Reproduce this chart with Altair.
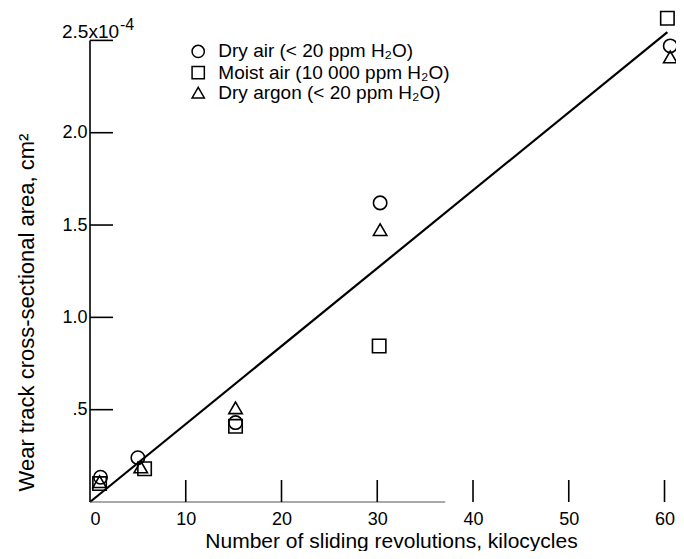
import altair as alt
import pandas as pd

# ---- data ----
series_names = ["Dry air", "Moist air", "Dry argon"]
legend_labels = ["Dry air (< 20 ppm H\u2082O)", "Moist air (10 000 ppm H\u2082O)", "Dry argon (< 20 ppm H\u2082O)"]

dry_air_x = [1.1, 5.0, 15.2, 30.3, 60.6]
dry_air_y = [0.134, 0.24, 0.43, 1.62, 2.47]
moist_air_x = [1.0, 5.7, 15.2, 30.2, 60.3]
moist_air_y = [0.10, 0.18, 0.41, 0.845, 2.62]
dry_argon_x = [1.0, 5.3, 15.2, 30.3, 60.6]
dry_argon_y = [0.11, 0.19, 0.51, 1.475, 2.41]

fit_x = [0, 60.3]
fit_y = [0, 2.545]

x_ticks = [10, 20, 30, 40, 50, 60]
x_labels = [0, 10, 20, 30, 40, 50, 60]
y_ticks = [0.5, 1.0, 1.5, 2.0, 2.5]
y_labels = [0.5, 1.0, 1.5, 2.0]

FONT = "Liberation Sans"

pts = pd.DataFrame({
    "x": dry_air_x + moist_air_x + dry_argon_x,
    "y": dry_air_y + moist_air_y + dry_argon_y,
    "s": [series_names[0]] * 5 + [series_names[1]] * 5 + [series_names[2]] * 5,
})
fit = pd.DataFrame({"x": fit_x, "y": fit_y})

xs = alt.Scale(domain=[0, 61.2], nice=False, zero=False)
ys = alt.Scale(domain=[0, 2.67], nice=False, zero=False)
shape_scale = alt.Scale(domain=series_names, range=["circle", "square", "triangle-up"])

X = alt.X("x:Q", scale=xs, axis=alt.Axis(
    values=x_labels, title="Number of sliding revolutions, kilocycles", grid=False, domain=False,
    ticks=False, labelPadding=8, labelFontSize=18, labelFont=FONT, labelColor="black",
    titleFont=FONT, titleFontSize=21, titleFontWeight="normal", titleColor="black",
    titleX=301, titleY=45, titleBaseline="alphabetic", titleAnchor="middle"))
Y = alt.Y("y:Q", scale=ys, axis=alt.Axis(
    values=y_labels, labelExpr="datum.value == 0.5 ? '.5' : format(datum.value, '.1f')",
    title="Wear track cross-sectional area, cm\u00b2", grid=False, domain=False, ticks=False,
    labelPadding=3, labelFontSize=18, labelFont=FONT, labelColor="black",
    titleFont=FONT, titleFontSize=22, titleFontWeight="normal", titleColor="black",
    titleAngle=270, titleX=-57, titleY=303, titleBaseline="alphabetic", titleAlign="center"))

points = alt.Chart(pts).mark_point(filled=False, size=180, strokeWidth=1.6, color="black", opacity=1).encode(
    x=X, y=Y, shape=alt.Shape("s:N", scale=shape_scale, legend=None))

line = alt.Chart(fit).mark_line(color="black", strokeWidth=2.2).encode(x="x:Q", y="y:Q")

# axis lines
yaxis = alt.Chart(pd.DataFrame({"x": [0], "y": [0], "y2": [2.5]})).mark_rule(color="black", strokeWidth=1.6).encode(
    x="x:Q", y="y:Q", y2="y2:Q")
xaxis = alt.Chart(pd.DataFrame({"x": [0], "x2": [37.1], "y": [0]})).mark_rule(color="#555555", strokeWidth=1.2).encode(
    x="x:Q", x2="x2:Q", y="y:Q")

# inward ticks
xt = alt.Chart(pd.DataFrame({"x": x_ticks, "y": [0] * len(x_ticks), "y2": [0.119] * len(x_ticks)})).mark_rule(
    color="black", strokeWidth=1.6).encode(x="x:Q", y="y:Q", y2="y2:Q")
yt = alt.Chart(pd.DataFrame({"y": y_ticks, "x": [0] * len(y_ticks), "x2": [2.4] * len(y_ticks)})).mark_rule(
    color="black", strokeWidth=1.6).encode(x="x:Q", x2="x2:Q", y="y:Q")

# top label 2.5x10^-4
top_main = alt.Chart(pd.DataFrame({"x": [3.03], "y": [2.511], "t": ["2.5x10"]})).mark_text(
    align="right", baseline="alphabetic", font=FONT, fontSize=19, color="black").encode(x="x:Q", y="y:Q", text="t:N")
top_exp = alt.Chart(pd.DataFrame({"x": [3.13], "y": [2.554], "t": ["-4"]})).mark_text(
    align="left", baseline="alphabetic", font=FONT, fontSize=16, color="black").encode(x="x:Q", y="y:Q", text="t:N")

# legend
leg = pd.DataFrame({"x": [11.3] * 3, "lx": [13.4] * 3, "y": [2.44, 2.325, 2.217], "s": series_names, "t": legend_labels})
leg_sym = alt.Chart(leg).mark_point(filled=False, size=150, strokeWidth=1.5, color="black", opacity=1).encode(
    x="x:Q", y="y:Q", shape=alt.Shape("s:N", scale=shape_scale, legend=None))
leg_txt = alt.Chart(leg).mark_text(align="left", baseline="middle", font=FONT, fontSize=19, color="black").encode(
    x="lx:Q", y="y:Q", text="t:N")

chart = alt.layer(points, line, yaxis, xaxis, xt, yt, top_main, top_exp, leg_sym, leg_txt).properties(
    width=586, height=493,
    background="white",
    autosize=alt.AutoSizeParams(type="none"),
    padding={"left": 82, "top": 1, "right": 0, "bottom": 49},
).configure_view(stroke=None)

chart.save("out.html", embed_options={"renderer": "svg", "actions": False})
